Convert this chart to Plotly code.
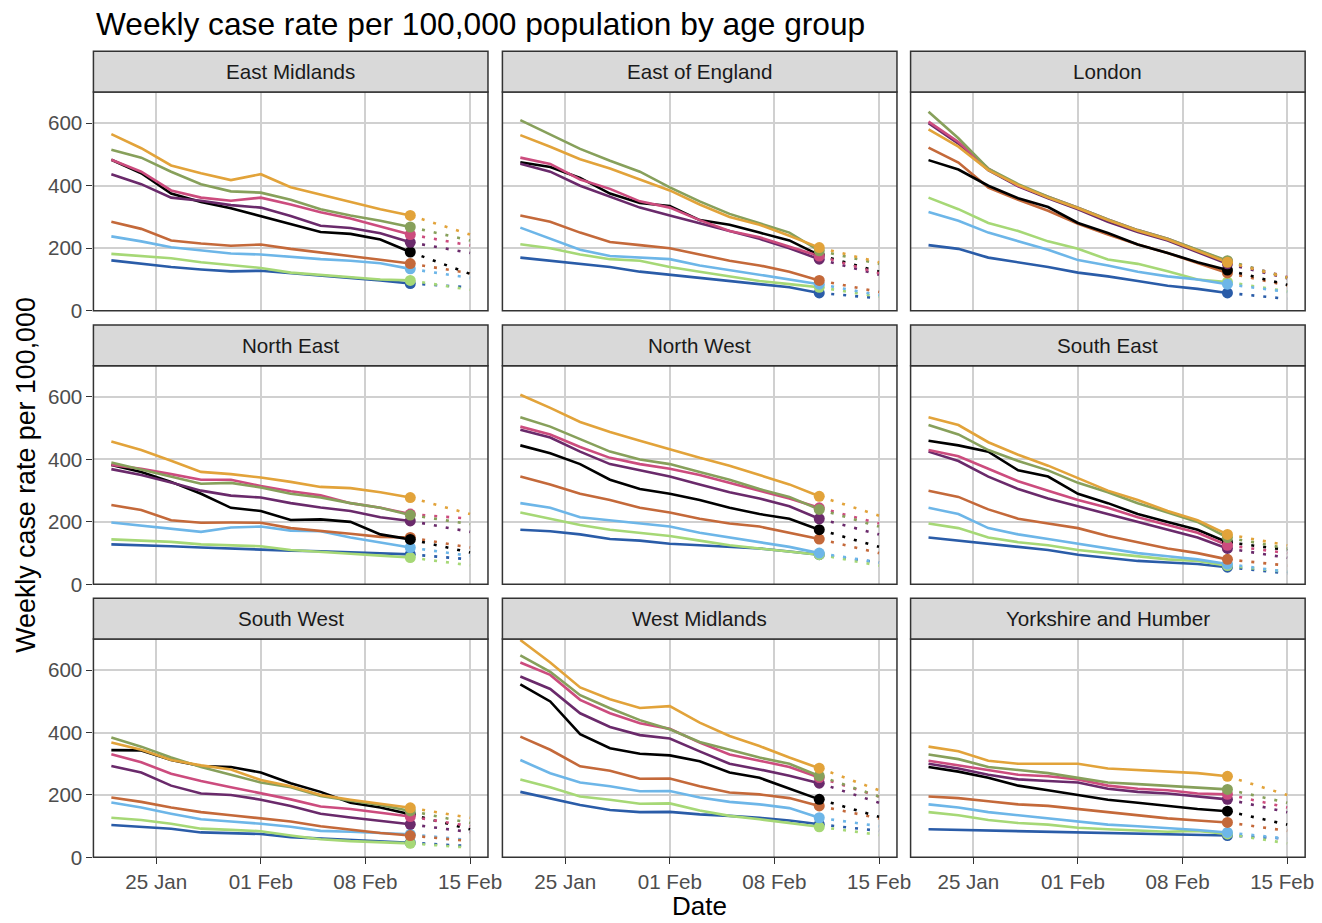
import plotly.graph_objects as go

# ---------------- data ----------------
DATES = ["2021-01-22", "2021-01-24", "2021-01-26", "2021-01-28", "2021-01-30",
         "2021-02-01", "2021-02-03", "2021-02-05", "2021-02-07", "2021-02-09",
         "2021-02-11"]
PROJ_END_DATE = "2021-02-15"
X_TICKS = ["2021-01-25", "2021-02-01", "2021-02-08", "2021-02-15"]
Y_TICKS = [0, 200, 400, 600]

REGIONS = ["East Midlands", "East of England", "London",
           "North East", "North West", "South East",
           "South West", "West Midlands", "Yorkshire and Humber"]

GROUPS = ["Age group 1", "Age group 2", "Age group 3", "Age group 4", "All ages",
          "Age group 5", "Age group 6", "Age group 7", "Age group 8"]

# series order: orange, olive, pink, purple, black, brown, light blue, light green, dark blue
EAST_MIDLANDS = [
    [565, 520, 465, 440, 418, 437, 395, 372, 348, 325, 305],
    [515, 490, 445, 405, 382, 378, 355, 325, 305, 288, 268],
    [483, 445, 385, 362, 352, 362, 340, 315, 295, 270, 244],
    [437, 405, 362, 352, 338, 330, 303, 272, 265, 248, 219],
    [483, 440, 375, 348, 328, 303, 278, 252, 246, 228, 188],
    [285, 262, 225, 215, 208, 212, 198, 187, 175, 163, 151],
    [238, 222, 203, 192, 183, 180, 172, 165, 160, 152, 134],
    [182, 175, 168, 155, 145, 137, 122, 114, 108, 100, 97],
    [161, 150, 140, 132, 126, 128, 120, 114, 106, 97, 87],
]
EAST_MIDLANDS_PROJ = [244, 225, 209, 185, 118, 120, 105, 67, 75]

EAST_OF_ENGLAND = [
    [562, 525, 485, 455, 420, 385, 340, 300, 275, 240, 202],
    [610, 565, 518, 480, 445, 395, 350, 310, 280, 250, 192],
    [490, 470, 420, 390, 350, 330, 290, 255, 235, 205, 175],
    [470, 445, 400, 365, 330, 305, 280, 255, 230, 200, 165],
    [475, 460, 425, 375, 345, 335, 290, 275, 250, 225, 178],
    [305, 285, 250, 220, 210, 200, 180, 160, 145, 125, 97],
    [266, 230, 195, 175, 170, 165, 145, 130, 115, 100, 85],
    [213, 200, 180, 165, 160, 140, 125, 110, 95, 85, 75],
    [170, 160, 150, 140, 125, 115, 105, 95, 85, 75, 57],
]
EAST_OF_ENGLAND_PROJ = [155, 150, 120, 115, 125, 60, 50, 45, 40]

LONDON = [
    [580, 525, 450, 402, 362, 328, 290, 256, 228, 192, 155],
    [637, 552, 455, 405, 365, 330, 292, 258, 230, 195, 160],
    [605, 540, 455, 400, 365, 330, 292, 258, 230, 195, 158],
    [600, 535, 450, 398, 360, 325, 285, 252, 225, 188, 150],
    [482, 452, 400, 360, 332, 281, 249, 212, 185, 155, 130],
    [522, 474, 394, 355, 320, 278, 244, 212, 185, 153, 121],
    [316, 288, 250, 222, 195, 162, 145, 125, 110, 100, 85],
    [362, 325, 281, 255, 222, 198, 164, 150, 126, 100, 92],
    [210, 198, 170, 155, 140, 122, 110, 95, 80, 70, 57],
]
LONDON_PROJ = [106, 106, 108, 104, 83, 81, 60, 62, 38]

NORTH_EAST = [
    [457, 430, 396, 360, 353, 342, 328, 312, 308, 295, 278],
    [390, 368, 345, 322, 325, 310, 290, 278, 260, 245, 222],
    [382, 370, 353, 335, 335, 315, 298, 285, 260, 245, 225],
    [369, 350, 326, 300, 284, 278, 260, 246, 235, 215, 203],
    [382, 360, 328, 290, 245, 235, 206, 208, 200, 160, 144],
    [254, 238, 205, 197, 198, 197, 180, 172, 162, 152, 150],
    [198, 188, 178, 168, 182, 185, 172, 170, 150, 135, 118],
    [144, 140, 136, 128, 125, 122, 110, 105, 98, 92, 86],
    [128, 126, 122, 118, 114, 110, 108, 106, 103, 100, 96],
]
NORTH_EAST_PROJ = [225, 193, 210, 168, 102, 118, 91, 61, 80]

NORTH_WEST = [
    [607, 565, 520, 488, 460, 432, 405, 380, 350, 320, 282],
    [535, 505, 465, 425, 400, 385, 360, 335, 305, 280, 240],
    [505, 480, 440, 405, 385, 370, 350, 325, 300, 275, 245],
    [495, 470, 425, 385, 365, 345, 320, 295, 275, 250, 210],
    [445, 420, 385, 335, 305, 290, 270, 245, 225, 210, 175],
    [345, 320, 290, 270, 245, 230, 210, 195, 185, 165, 145],
    [260, 245, 215, 205, 195, 185, 165, 150, 135, 120, 100],
    [230, 210, 190, 175, 165, 155, 140, 125, 115, 105, 95],
    [175, 170, 160, 145, 140, 130, 125, 120, 115, 105, 95],
]
NORTH_WEST_PROJ = [220, 185, 195, 160, 120, 100, 70, 60, 70]

SOUTH_EAST = [
    [535, 510, 455, 415, 380, 340, 300, 270, 235, 205, 160],
    [510, 480, 430, 395, 365, 325, 295, 260, 230, 200, 150],
    [430, 410, 370, 330, 300, 270, 245, 215, 190, 165, 125],
    [425, 395, 345, 305, 275, 250, 225, 200, 175, 150, 115],
    [460, 445, 425, 365, 345, 290, 260, 225, 200, 175, 135],
    [300, 280, 240, 210, 195, 180, 155, 135, 115, 100, 80],
    [245, 225, 180, 160, 145, 130, 115, 100, 90, 80, 65],
    [195, 180, 150, 135, 125, 110, 100, 90, 80, 75, 60],
    [150, 140, 130, 120, 110, 95, 85, 75, 70, 65, 55],
]
SOUTH_EAST_PROJ = [125, 115, 100, 85, 110, 60, 40, 40, 35]

SOUTH_WEST = [
    [368, 345, 312, 295, 282, 248, 228, 200, 185, 172, 159],
    [384, 355, 320, 290, 265, 240, 225, 197, 182, 168, 149],
    [331, 305, 268, 245, 225, 205, 186, 163, 155, 143, 131],
    [293, 272, 230, 205, 200, 185, 165, 140, 128, 118, 106],
    [344, 343, 312, 293, 290, 272, 238, 210, 175, 160, 138],
    [192, 178, 160, 145, 135, 125, 115, 100, 88, 78, 70],
    [176, 160, 140, 122, 115, 108, 98, 85, 82, 78, 74],
    [127, 120, 108, 92, 88, 84, 70, 58, 52, 48, 45],
    [104, 98, 92, 80, 78, 75, 65, 60, 55, 50, 47],
]
SOUTH_WEST_PROJ = [127, 110, 100, 81, 90, 52, 55, 31, 36]

WEST_MIDLANDS = [
    [697, 625, 545, 507, 479, 485, 432, 389, 357, 320, 286],
    [648, 595, 520, 478, 440, 411, 370, 345, 320, 300, 261],
    [625, 585, 505, 462, 430, 412, 368, 330, 310, 290, 256],
    [580, 540, 462, 418, 392, 381, 340, 300, 282, 262, 238],
    [555, 500, 395, 350, 332, 327, 308, 272, 255, 220, 186],
    [387, 345, 292, 278, 252, 253, 228, 208, 202, 190, 165],
    [312, 270, 240, 228, 212, 213, 192, 178, 170, 158, 127],
    [250, 225, 195, 185, 172, 173, 150, 133, 122, 110, 98],
    [210, 190, 168, 152, 145, 146, 138, 133, 127, 118, 106],
]
WEST_MIDLANDS_PROJ = [215, 195, 195, 175, 130, 125, 100, 72, 85]

YORKSHIRE_AND_HUMBER = [
    [355, 340, 310, 300, 300, 300, 285, 280, 275, 270, 260],
    [330, 315, 290, 280, 270, 255, 240, 235, 230, 225, 218],
    [310, 295, 280, 265, 260, 250, 230, 220, 215, 205, 202],
    [300, 285, 265, 250, 245, 240, 220, 210, 205, 195, 186],
    [290, 275, 255, 230, 215, 200, 185, 175, 165, 155, 148],
    [195, 190, 180, 170, 165, 155, 145, 135, 125, 118, 112],
    [170, 160, 145, 135, 125, 115, 105, 100, 95, 88, 80],
    [145, 135, 120, 110, 105, 95, 90, 85, 82, 85, 75],
    [90, 88, 85, 82, 80, 78, 77, 75, 73, 72, 70],
]
YORKSHIRE_AND_HUMBER_PROJ = [200, 175, 160, 145, 105, 85, 60, 45, 60]

REGION_DATA = [EAST_MIDLANDS, EAST_OF_ENGLAND, LONDON, NORTH_EAST, NORTH_WEST,
               SOUTH_EAST, SOUTH_WEST, WEST_MIDLANDS, YORKSHIRE_AND_HUMBER]
REGION_PROJ = [EAST_MIDLANDS_PROJ, EAST_OF_ENGLAND_PROJ, LONDON_PROJ, NORTH_EAST_PROJ,
               NORTH_WEST_PROJ, SOUTH_EAST_PROJ, SOUTH_WEST_PROJ, WEST_MIDLANDS_PROJ,
               YORKSHIRE_AND_HUMBER_PROJ]

# ---------------- styles ----------------
COLORS = ["#E2A33A", "#87A05B", "#CC4C7E", "#6A2A6B", "#000000",
          "#C4693A", "#6DB6E8", "#A6D876", "#2A5CA8"]
DRAW_ORDER = [8, 7, 6, 5, 4, 3, 2, 1, 0]

# target (screen) pixel positions mapped into figure pixels
# (8px page margin, capture scaled by ~0.988)
OFF = 8.0
S = 0.988


def px(t):
    return (t - OFF) / S


W, H = 1322, 923
COL_T = [(93.3, 487.3), (501.7, 895.7), (909.3, 1303.3)]
ROW_T = [(92.0, 310.7), (365.7, 584.3), (639.0, 857.3)]
STRIP_T = 40.8
X_RANGE = ["2021-01-20 19:12", "2021-02-16 04:48"]
Y_RANGE = [0, 700]
FONT = "Liberation Sans, Arial, sans-serif"
GRID = "#D0D0D0"
BORDER = "#333333"
TICK_FS = 20.6
LABEL_SHIFT = [0, 0, -5]   # keep the right-most date label inside the page


def xp(t):
    return px(t) / W


def yp(t):
    return 1 - px(t) / H


fig = go.Figure()
layout = dict(
    width=W, height=H, autosize=False,
    margin=dict(l=0, r=0, t=0, b=0),
    paper_bgcolor="white", plot_bgcolor="white",
    showlegend=False,
    font=dict(family=FONT, color="#4D4D4D"),
)
shapes, annotations = [], []

for idx, region in enumerate(REGIONS):
    r, c = divmod(idx, 3)
    sfx = "" if idx == 0 else str(idx + 1)
    x0, x1 = COL_T[c]
    y0, y1 = ROW_T[r]
    layout["xaxis" + sfx] = dict(
        domain=[xp(x0), xp(x1)], anchor="y" + sfx, type="date", range=X_RANGE,
        tickvals=X_TICKS, tickformat="%d %b", showticklabels=(r == 2),
        ticks="outside" if r == 2 else "", ticklen=6, tickwidth=1.3, tickcolor=BORDER,
        tickfont=dict(size=TICK_FS, color="#4D4D4D", family=FONT),
        ticklabeloverflow="allow", ticklabelshift=LABEL_SHIFT[c],
        showgrid=True, gridcolor=GRID, gridwidth=1.8, zeroline=False, showline=False,
        fixedrange=True,
    )
    layout["yaxis" + sfx] = dict(
        domain=[yp(y1), yp(y0)], anchor="x" + sfx, range=Y_RANGE,
        tickvals=Y_TICKS, showticklabels=(c == 0),
        ticks="outside" if c == 0 else "", ticklen=6, tickwidth=1.3, tickcolor=BORDER,
        tickfont=dict(size=TICK_FS, color="#4D4D4D", family=FONT),
        showgrid=True, gridcolor=GRID, gridwidth=1.8, zeroline=False, showline=False,
        fixedrange=True,
    )
    # panel border
    shapes.append(dict(type="rect", xref="paper", yref="paper", layer="above",
                       x0=xp(x0), x1=xp(x1), y0=yp(y1), y1=yp(y0),
                       line=dict(color=BORDER, width=1.5), fillcolor="rgba(0,0,0,0)"))
    # strip
    shapes.append(dict(type="rect", xref="paper", yref="paper", layer="above",
                       x0=xp(x0), x1=xp(x1), y0=yp(y0), y1=yp(y0 - STRIP_T),
                       line=dict(color=BORDER, width=1.5), fillcolor="#D9D9D9"))
    annotations.append(dict(text=region, xref="paper", yref="paper",
                            x=(xp(x0) + xp(x1)) / 2, y=yp(y0 - STRIP_T / 2),
                            xanchor="center", yanchor="middle", showarrow=False,
                            font=dict(size=TICK_FS, color="#1A1A1A", family=FONT)))

    data = REGION_DATA[idx]
    proj = REGION_PROJ[idx]
    xa, ya = "x" + sfx, "y" + sfx
    for g in DRAW_ORDER:
        fig.add_trace(go.Scatter(x=DATES, y=data[g], mode="lines", name=GROUPS[g],
                                 line=dict(color=COLORS[g], width=2.6),
                                 xaxis=xa, yaxis=ya, hoverinfo="x+y+name"))
    for g in DRAW_ORDER:
        fig.add_trace(go.Scatter(x=[DATES[-1], PROJ_END_DATE], y=[data[g][-1], proj[g]],
                                 mode="lines", name=GROUPS[g] + " (projected)",
                                 line=dict(color=COLORS[g], width=2.6, dash="3px,9px"),
                                 xaxis=xa, yaxis=ya, hoverinfo="x+y+name"))
    for g in DRAW_ORDER:
        fig.add_trace(go.Scatter(x=[DATES[-1]], y=[data[g][-1]], mode="markers",
                                 name=GROUPS[g],
                                 marker=dict(color=COLORS[g], size=11, line=dict(width=0)),
                                 xaxis=xa, yaxis=ya, hoverinfo="x+y+name"))

# titles
annotations.append(dict(text="Weekly case rate per 100,000 population by age group",
                        xref="paper", yref="paper", x=xp(94), y=yp(24),
                        xanchor="left", yanchor="middle", showarrow=False,
                        font=dict(size=31.7, color="#000000", family=FONT)))
annotations.append(dict(text="Date", xref="paper", yref="paper",
                        x=(xp(COL_T[0][0]) + xp(COL_T[2][1])) / 2, y=yp(906),
                        xanchor="center", yanchor="middle", showarrow=False,
                        font=dict(size=26, color="#000000", family=FONT)))
annotations.append(dict(text="Weekly case rate per 100,000", xref="paper", yref="paper",
                        x=xp(26), y=yp((ROW_T[0][0] + ROW_T[2][1]) / 2),
                        xanchor="center", yanchor="middle", textangle=-90, showarrow=False,
                        font=dict(size=26.8, color="#000000", family=FONT)))

layout["shapes"] = shapes
layout["annotations"] = annotations
fig.update_layout(**layout)
fig.write_html("out.html")
